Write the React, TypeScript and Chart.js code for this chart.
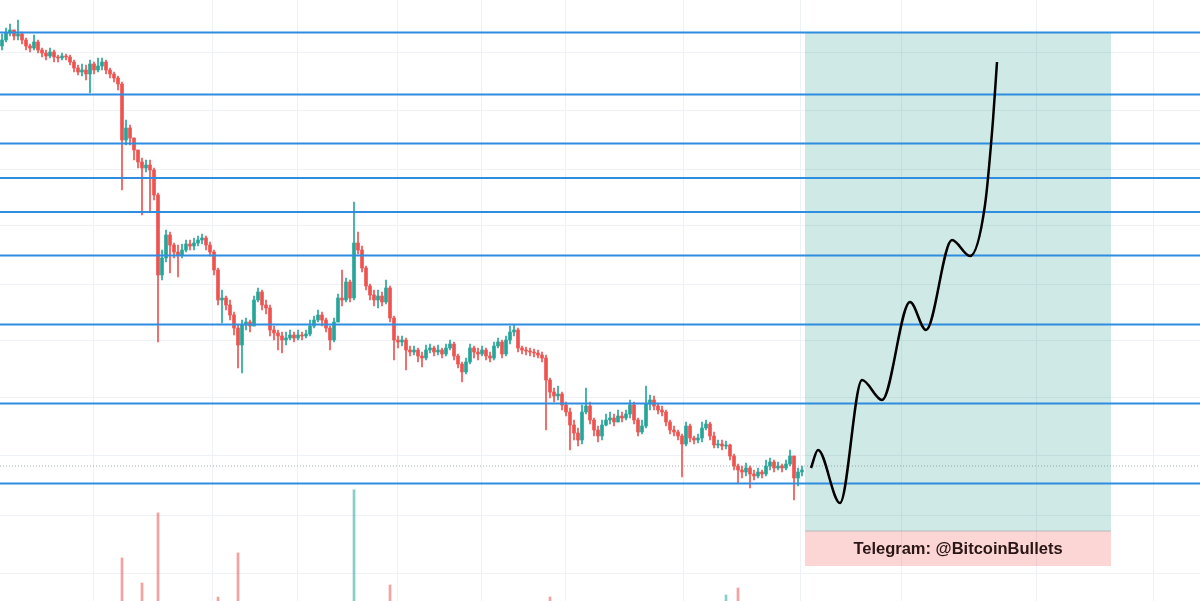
import React, { useEffect, useRef } from "react";
import { Chart, registerables } from "chart.js";

Chart.register(...registerables);

// ---- price data (thousands USD), one candle per slot ----
const FIRST_OPEN = 57.7;
const closes = [
  58.0, 58.35, 58.5, 58.2, 58.3, 58.0, 57.7, 57.6, 57.9, 57.5,
  57.35, 57.2, 57.4, 57.15, 57.1, 57.2, 57.15, 56.9, 56.6, 56.4,
  56.5, 56.3, 56.8, 56.5, 56.7, 56.9, 56.5, 56.3, 56.1, 55.8,
  53.0, 53.6, 53.1, 52.5, 51.9, 51.6, 51.75, 51.5, 50.25, 46.25,
  47.1, 48.25, 47.75, 47.4, 47.25, 47.5, 47.8, 47.7, 47.85, 48.0,
  48.1, 47.75, 47.4, 46.5, 45.0, 45.1, 44.75, 44.25, 43.6, 42.75,
  43.75, 43.9, 43.7, 45.0, 45.4, 44.75, 44.6, 43.5, 43.35, 43.2,
  43.0, 43.1, 43.25, 43.1, 43.25, 43.2, 43.3, 43.7, 44.0, 44.25,
  44.0, 43.6, 43.0, 43.9, 45.1, 45.0, 45.9, 45.1, 47.85, 47.5,
  46.6, 45.7, 45.25, 45.0, 45.2, 44.9, 45.6, 44.1, 43.0, 42.9,
  43.0, 42.5, 42.4, 42.5, 42.2, 42.1, 42.5, 42.6, 42.4, 42.5,
  42.3, 42.6, 42.8, 42.2, 41.8, 41.4, 41.9, 42.6, 42.4, 42.3,
  42.5, 42.2, 42.1, 42.7, 42.9, 42.3, 43.0, 43.4, 43.5, 42.6,
  42.5, 42.45, 42.4, 42.35, 42.25, 42.1, 41.0, 40.4, 40.2, 40.3,
  39.75, 39.4, 38.75, 38.35, 38.0, 39.4, 39.7, 39.0, 38.5, 38.2,
  38.75, 39.0, 39.1, 38.9, 39.2, 39.1, 39.3, 39.75, 39.0, 38.4,
  38.7, 39.8, 40.0, 39.7, 39.5, 39.4, 38.9, 38.5, 38.4, 38.2,
  37.8, 38.7, 38.1, 38.0, 38.1, 38.6, 38.8, 38.2, 37.75, 37.8,
  37.7, 37.75, 37.2, 36.7, 36.5, 36.4, 36.6, 36.3, 36.2, 36.4,
  36.3, 36.7, 36.9, 36.6, 36.7, 36.6, 36.8, 37.2, 36.1, 36.4,
  36.5,
];
const highs = [
  58.3, 58.6, 58.8, 58.5, 59.0, 58.4, 58.1, 57.8, 58.25, 58.0,
  57.6, 57.5, 57.6, 57.5, 57.25, 57.35, 57.3, 57.25, 57.0, 56.75,
  56.8, 56.75, 57.0, 56.9, 57.1, 57.1, 57.0, 56.6, 56.4, 56.2,
  55.9, 54.0, 53.75, 53.1, 52.5, 52.1, 52.0, 52.0, 51.6, 50.35,
  47.5, 48.5, 48.4, 47.85, 47.75, 47.8, 48.0, 48.0, 48.1, 48.2,
  48.3, 48.2, 47.9, 47.5, 46.6, 45.5, 45.2, 45.0, 44.4, 43.75,
  44.0, 44.1, 44.0, 45.2, 45.6, 45.5, 45.0, 44.75, 43.7, 43.5,
  43.4, 43.4, 43.5, 43.4, 43.5, 43.4, 43.5, 44.0, 44.2, 44.5,
  44.4, 44.1, 43.7, 44.1, 45.3, 46.5, 46.1, 46.0, 49.9, 48.4,
  47.7, 46.7, 45.8, 45.5, 45.5, 45.4, 46.0, 45.7, 44.2, 43.2,
  43.2, 43.1, 42.7, 42.7, 42.6, 42.4, 42.75, 42.8, 42.7, 42.75,
  42.6, 42.8, 43.0, 42.9, 42.3, 41.9, 42.1, 42.8, 42.7, 42.6,
  42.7, 42.6, 42.4, 42.9, 43.1, 43.0, 43.2, 43.7, 43.75, 43.6,
  42.7, 42.65, 42.6, 42.55, 42.5, 42.4, 42.25, 41.1, 40.6, 40.7,
  40.4, 39.9, 39.6, 39.0, 38.6, 39.75, 40.6, 39.9, 39.1, 38.7,
  39.0, 39.3, 39.4, 39.3, 39.5, 39.4, 39.5, 40.0, 39.9, 39.1,
  39.0, 40.7, 40.25, 40.2, 39.8, 39.7, 39.5, 39.0, 38.7, 38.5,
  38.3, 38.9, 38.8, 38.2, 38.3, 38.9, 39.0, 38.9, 38.4, 38.0,
  38.0, 37.95, 37.8, 37.3, 36.8, 36.7, 36.85, 36.7, 36.5, 36.6,
  36.5, 37.0, 37.1, 37.0, 36.9, 36.8, 37.0, 37.5, 37.2, 36.6,
  36.7,
];
const lows = [
  57.5, 57.9, 58.2, 58.0, 58.0, 57.8, 57.5, 57.4, 57.5, 57.35,
  57.15, 57.0, 57.1, 56.9, 56.9, 57.0, 57.0, 56.75, 56.4, 56.25,
  56.2, 56.0, 55.35, 56.3, 56.4, 56.5, 56.3, 56.1, 55.9, 55.5,
  50.5, 52.75, 52.75, 52.0, 51.6, 49.25, 51.4, 49.4, 50.0, 42.9,
  46.0, 46.9, 46.35, 47.1, 46.15, 47.1, 47.4, 47.5, 47.5, 47.7,
  47.8, 47.5, 47.2, 46.25, 44.75, 43.85, 44.5, 44.0, 43.25, 41.6,
  41.35, 43.5, 43.4, 43.7, 44.9, 44.5, 44.3, 43.2, 43.0, 42.5,
  42.35, 42.75, 43.0, 42.9, 43.0, 43.0, 43.1, 43.2, 43.6, 43.9,
  43.7, 43.4, 42.5, 42.9, 43.9, 44.7, 44.9, 44.9, 45.0, 47.3,
  46.4, 45.5, 45.0, 44.7, 44.6, 44.7, 44.8, 43.9, 42.0, 42.6,
  42.7, 41.5, 42.2, 42.25, 41.9, 41.65, 42.0, 42.35, 42.2, 42.25,
  42.1, 42.2, 42.5, 42.0, 41.6, 40.9, 41.3, 41.8, 42.1, 42.0,
  42.2, 42.0, 41.9, 42.0, 42.6, 42.1, 42.2, 42.8, 43.2, 42.4,
  42.3, 42.25, 42.2, 42.15, 42.1, 41.9, 38.5, 40.1, 39.9, 40.0,
  39.5, 39.2, 37.5, 38.0, 37.7, 37.8, 39.3, 38.8, 38.2, 37.9,
  38.0, 38.7, 38.8, 38.7, 39.0, 38.9, 39.0, 39.1, 38.8, 38.2,
  38.3, 38.6, 39.5, 39.5, 39.3, 39.2, 38.7, 38.3, 38.2, 38.0,
  36.15, 37.7, 37.9, 37.8, 37.85, 37.9, 38.5, 38.0, 37.6, 37.6,
  37.5, 37.55, 37.0, 36.5, 35.85, 36.1, 36.2, 35.6, 36.0, 36.1,
  36.1, 36.2, 36.5, 36.4, 36.5, 36.4, 36.5, 36.7, 35.0, 35.7,
  36.2,
];

// ---- volume spikes that reach into view (candle index, volume) ----
const volumeIndex = [30, 35, 39, 54, 59, 88, 97, 137, 181, 184];
const volumeValue = [4.3, 1.8, 8.8, 0.4, 4.8, 11.1, 1.6, 0.4, 0.6, 1.3];

// ---- drawn levels ----
const levels = [58.37, 55.27, 52.82, 51.1, 49.4, 47.22, 43.78, 39.83, 35.83];
const lastPrice = 36.7;

// ---- projection path ----
const projX = [202.75, 204.5, 210, 215.5, 220.5, 227.5, 231.5, 238, 242.5, 246.25, 248.25, 249.25];
const projY = [36.6, 37.5, 34.85, 41.0, 40.0, 44.9, 43.5, 48.0, 47.2, 49.75, 54.0, 56.9];

// ---- target zone & label ----
const zoneStart = 201.25;
const zoneEnd = 277.75;
const zoneTop = 58.37;
const zoneBottom = 33.45;
const labelBottom = 31.7;
const labelText = "Telegram: @BitcoinBullets";

// ---- axis ranges & grid ----
const xMin = 0;
const xMax = 300;
const yMin = 29.95;
const yMax = 60;
const volMax = 60;
const gridX = [23.25, 53, 74.25, 99.25, 120.25, 141.25, 170.75, 200, 225.25, 259, 288.25];
const gridY = [57.4, 54.45, 51.55, 48.7, 45.8, 42.95, 40.1, 37.2, 34.25, 31.35];

const UP = "#26a69a";
const DOWN = "#ef5350";
const LEVEL = "#2f8de0";

export default function App() {
  const ref = useRef<HTMLCanvasElement | null>(null);

  useEffect(() => {
    document.body.style.margin = "0";
    const canvas = ref.current;
    if (!canvas) return;

    const opens = closes.map((c, i) => (i === 0 ? FIRST_OPEN : closes[i - 1]));
    const isUp = closes.map((c, i) => c >= opens[i]);
    const bodies = closes.map((c, i) => ({ x: i + 0.5, y: [opens[i], c] }));
    const wicks = closes.map((c, i) => ({
      x: i + 0.5,
      y: [Math.min(lows[i], opens[i], c), Math.max(highs[i], opens[i], c)],
    }));
    const colors = isUp.map((u) => (u ? UP : DOWN));
    const vols = volumeIndex.map((idx, k) => ({ x: idx + 0.5, y: volumeValue[k] }));
    const volColors = volumeIndex.map((idx) =>
      isUp[idx] ? "rgba(38,166,154,0.55)" : "rgba(239,83,80,0.55)"
    );

    const levelSets = levels.map((lv) => ({
      type: "line" as const,
      data: [
        { x: xMin, y: lv },
        { x: xMax, y: lv },
      ],
      borderColor: LEVEL,
      borderWidth: 2,
      pointRadius: 0,
      order: 3,
    }));

    const labelPlugin = {
      id: "zoneLabel",
      afterDatasetsDraw(chart: any) {
        const { ctx, scales } = chart;
        const cx = scales.x.getPixelForValue((zoneStart + zoneEnd) / 2);
        const cy = scales.y.getPixelForValue((zoneBottom + labelBottom) / 2);
        ctx.save();
        ctx.font = "bold 16.5px 'Liberation Sans', Arial, sans-serif";
        ctx.fillStyle = "#2a1616";
        ctx.textAlign = "center";
        ctx.textBaseline = "middle";
        ctx.fillText(labelText, cx, cy + 1);
        ctx.restore();
      },
    };

    const chart = new Chart(canvas, {
      type: "bar",
      data: {
        datasets: [
          {
            type: "line",
            data: [
              { x: zoneStart, y: zoneTop },
              { x: zoneEnd, y: zoneTop },
            ],
            borderWidth: 0,
            borderColor: "rgba(0,0,0,0)",
            pointRadius: 0,
            fill: { value: zoneBottom },
            backgroundColor: "rgba(0,137,123,0.19)",
            order: 10,
          },
          {
            type: "line",
            data: [
              { x: zoneStart, y: zoneBottom },
              { x: zoneEnd, y: zoneBottom },
            ],
            borderWidth: 1,
            borderColor: "rgba(150,160,160,0.6)",
            pointRadius: 0,
            fill: { value: labelBottom },
            backgroundColor: "rgba(242,80,80,0.24)",
            order: 9,
          },
          {
            type: "line",
            data: [
              { x: xMin, y: lastPrice },
              { x: xMax, y: lastPrice },
            ],
            borderColor: "rgba(120,140,150,0.7)",
            borderWidth: 1,
            borderDash: [1, 2],
            pointRadius: 0,
            order: 8,
          },
          {
            type: "bar",
            data: vols,
            yAxisID: "yv",
            backgroundColor: volColors,
            barThickness: 2,
            grouped: false,
            order: 7,
          },
          {
            type: "bar",
            data: wicks,
            backgroundColor: colors,
            barThickness: 1,
            grouped: false,
            order: 6,
          },
          {
            type: "bar",
            data: bodies,
            backgroundColor: colors,
            barThickness: 3,
            minBarLength: 1,
            grouped: false,
            order: 5,
          },
          ...levelSets,
          {
            type: "line",
            data: projX.map((x, i) => ({ x, y: projY[i] })),
            borderColor: "#000000",
            borderWidth: 2.5,
            pointRadius: 0,
            cubicInterpolationMode: "monotone",
            fill: false,
            order: 1,
          },
        ] as any,
      },
      options: {
        responsive: false,
        animation: false,
        devicePixelRatio: 1,
        layout: { padding: 0 },
        plugins: {
          legend: { display: false },
          tooltip: { enabled: false },
        },
        scales: {
          x: {
            type: "linear",
            min: xMin,
            max: xMax,
            bounds: "data",
            offset: false,
            ticks: { display: false },
            grid: { color: "#eef1f5", drawTicks: false, offset: false },
            border: { display: false },
            afterBuildTicks: (scale: any) => {
              scale.ticks = gridX.map((v) => ({ value: v }));
            },
          },
          y: {
            type: "linear",
            min: yMin,
            max: yMax,
            bounds: "data",
            ticks: { display: false },
            grid: { color: "#eef1f5", drawTicks: false },
            border: { display: false },
            afterBuildTicks: (scale: any) => {
              scale.ticks = gridY.map((v) => ({ value: v }));
            },
          },
          yv: {
            type: "linear",
            display: false,
            min: 0,
            max: volMax,
          },
        },
      } as any,
      plugins: [labelPlugin],
    });

    return () => chart.destroy();
  }, []);

  return (
    <div style={{ width: 1200, height: 601, background: "#ffffff" }}>
      <canvas ref={ref} width={1200} height={601} style={{ display: "block" }} />
    </div>
  );
}
